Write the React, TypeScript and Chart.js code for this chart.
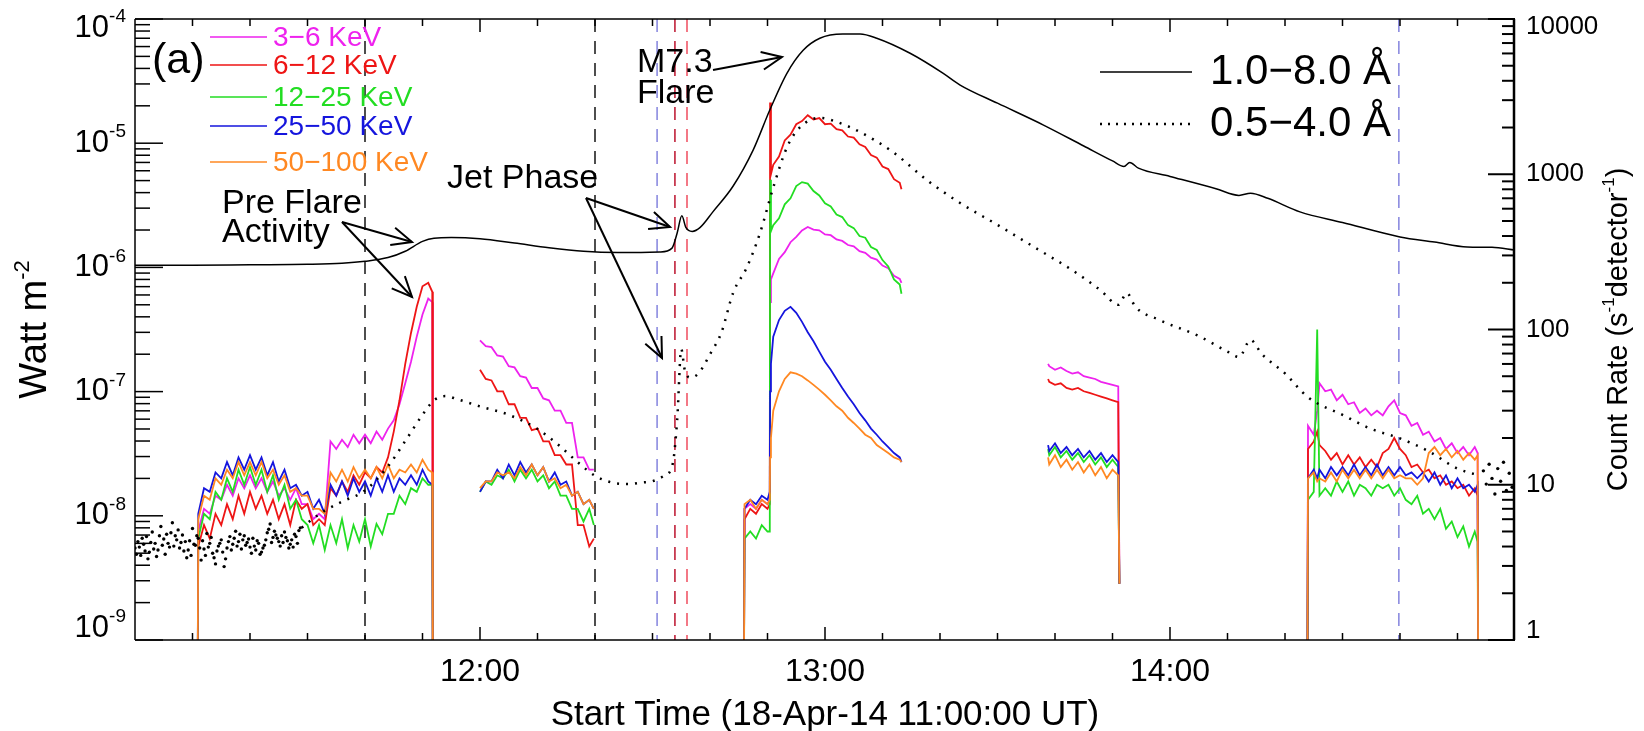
import React, { useEffect, useRef } from "react";
import { Chart, registerables } from "chart.js";
Chart.register(...registerables);

const W = 1644, H = 731;
const PAD = { left: 135, right: 129, top: 19, bottom: 91 };
const FONT = '"Liberation Sans", Arial, sans-serif';

// ---------- axis ticks ----------
const xLabelTimes = [60, 120, 180];
const xLabels = ["12:00", "13:00", "14:00"];
const leftDecades = [-9, -8, -7, -6, -5, -4];
const rightTicks = [1, 10, 100, 1000, 10000];
const rightTickLabels = ["1", "10", "100", "1000", "10000"];

// ---------- GOES 1.0-8.0 A (minutes after 11:00, W m^-2) ----------
const goesLongT = [0, 10, 20, 30, 36, 40, 44, 47, 50, 52, 55, 60, 66, 72, 78, 84, 88, 91.3, 93.4, 94.3, 95.1, 95.8, 96.9, 98.3, 100.5, 104, 107.5, 110.4, 113.4, 116.2, 119.1, 123.1, 126.1, 129, 134.8, 140.5, 143.5, 150, 158, 165, 170, 172, 173, 174.5, 180, 188, 192, 194, 197, 202.6, 210, 220, 226, 231.7, 236, 240];
const goesLongV = [1.04e-6, 1.04e-6, 1.05e-6, 1.06e-6, 1.08e-6, 1.12e-6, 1.2e-6, 1.35e-6, 1.62e-6, 1.72e-6, 1.74e-6, 1.7e-6, 1.57e-6, 1.44e-6, 1.35e-6, 1.32e-6, 1.32e-6, 1.33e-6, 1.43e-6, 1.9e-6, 2.6e-6, 2.1e-6, 1.95e-6, 2.1e-6, 2.8e-6, 4.5e-6, 8.8e-6, 1.85e-5, 3.67e-5, 5.6e-5, 7.0e-5, 7.57e-5, 7.57e-5, 7.0e-5, 5.3e-5, 3.67e-5, 2.94e-5, 2.1e-5, 1.4e-5, 9.5e-6, 7.2e-6, 6.5e-6, 7.0e-6, 6.3e-6, 5.4e-6, 4.3e-6, 3.8e-6, 3.95e-6, 3.6e-6, 2.8e-6, 2.3e-6, 1.76e-6, 1.6e-6, 1.46e-6, 1.45e-6, 1.38e-6];

// ---------- GOES 0.5-4.0 A ----------
const goesShortT = [29, 31, 33, 36, 40, 44, 47, 50, 52, 54, 56, 60, 65, 70, 74, 77, 80, 83, 86, 88, 90, 92, 93.5, 94.3, 95, 95.6, 96.5, 98, 100, 102, 104, 106.4, 108.7, 111, 113.4, 115.7, 119.1, 122.1, 126.1, 131.8, 137.7, 143.5, 150, 157, 163, 168, 171, 172.5, 174, 178, 185, 190, 192, 194, 196, 200, 204, 210, 215, 220, 225, 230, 234];
const goesShortV = [8e-9, 9.5e-9, 1.1e-8, 1.3e-8, 1.6e-8, 2.5e-8, 4e-8, 6.5e-8, 8.5e-8, 9.2e-8, 8.7e-8, 7.6e-8, 6.5e-8, 5e-8, 3.6e-8, 2.7e-8, 2.1e-8, 1.85e-8, 1.8e-8, 1.85e-8, 1.9e-8, 2.1e-8, 2.6e-8, 6e-8, 2.2e-7, 1.5e-7, 1.3e-7, 1.4e-7, 2e-7, 3e-7, 6.2e-7, 1e-6, 1.89e-6, 4.4e-6, 9.3e-6, 1.35e-5, 1.6e-5, 1.48e-5, 1.23e-5, 8.5e-6, 5.06e-6, 3.3e-6, 2.2e-6, 1.4e-6, 9.5e-7, 6.5e-7, 5e-7, 6.2e-7, 4.8e-7, 3.8e-7, 2.8e-7, 2.1e-7, 1.9e-7, 2.6e-7, 2e-7, 1.4e-7, 9e-8, 6.5e-8, 5e-8, 4.2e-8, 3.3e-8, 2.4e-8, 2.1e-8];
// noisy low-level samples (x1e-9), half-minute cadence from 11:00 and from 11:00:15
const noiseV1 = [5.5, 6.2, 4.8, 5.9, 6.8, 5.1, 7.4, 6.0, 5.3, 8.2, 6.5, 7.1, 5.6, 8.8, 6.9, 7.7, 6.1, 5.2, 4.6, 6.3, 7.9, 5.8, 6.6, 4.4, 5.4, 7.2, 6.0, 5.0, 4.1, 5.7, 6.4, 3.9, 5.5, 6.8, 5.9, 7.5, 6.2, 5.4, 6.9, 6.1, 5.6, 6.6, 5.3, 6.0, 5.1, 5.8, 7.3, 8.6, 6.7, 7.0, 6.2, 6.9, 7.4, 6.3, 5.9, 5.6, 6.8, 7.6];
const noiseV2 = [4.9, 5.6, 6.6, 5.2, 4.5, 6.1, 5.4, 4.7, 6.9, 5.8, 4.9, 6.0, 7.3, 5.7, 6.4, 5.5, 7.0, 6.2, 5.3, 4.8, 5.9, 6.9, 5.5, 6.3, 4.8, 5.6, 6.7, 4.6, 5.2, 6.0, 5.1, 4.5, 6.2, 5.3, 6.6, 5.7, 7.1, 6.4, 5.8, 6.5, 5.0, 5.7, 6.3, 4.9, 5.5, 6.4, 7.8, 6.1, 7.5, 6.6, 5.7, 6.1, 6.7, 5.5, 6.4, 7.1, 6.0, 8.0];
const endNoiseT = [234.5, 235, 235.5, 236, 236.5, 237, 237.5, 238, 238.5, 239, 239.5];
const endNoiseV = [2.3e-8, 1.8e-8, 2.6e-8, 2.0e-8, 1.5e-8, 2.4e-8, 1.9e-8, 2.7e-8, 1.6e-8, 2.2e-8, 1.7e-8];

// ---------- RHESSI count rates (s^-1 detector^-1) ----------
const mins = (a: number, b: number) => { const r: number[] = []; for (let i = a; i <= b; i++) r.push(i); return r; };
const tA = [10.9, ...mins(11, 51), 51.7, 51.8];
const tB = [...mins(60, 79), 79.8];
const tC = [105.9, ...mins(106, 110), 110.4, 110.45, 110.6, ...mins(111, 133), 133.3];
const tD = [158.8, ...mins(159, 171), 171.2];
const tE = [203.9, 204, 205, 205.6, ...mins(206, 233), 233.5, 233.6];

const magA = [0.5, 5, 7, 6.5, 8.5, 8, 10, 8.5, 11, 9.5, 11.5, 9.5, 11, 9, 10.5, 8.5, 9.5, 8, 9.5, 7.5, 7.5, 6, 6.5, 6, 19, 17, 19.5, 17.5, 21, 18.5, 21, 18.5, 22, 19.5, 23, 26, 33, 45, 62, 90, 125, 158, 150, 0.5];
const redA = [0.5, 4, 5.5, 4.5, 6.5, 5.5, 7.5, 6, 8.5, 6.5, 9, 7, 8.5, 6.5, 8, 6, 7.5, 5.5, 8, 7, 7.5, 5.5, 6, 5.5, 9.5, 8.5, 10.5, 9, 11.5, 10, 12, 11, 13, 12, 15, 22, 35, 60, 95, 140, 190, 200, 175, 0.5];
const grnA = [0.5, 4.5, 6.5, 6, 9, 8, 11, 9, 12.5, 10, 13, 10, 12.5, 9, 11.5, 8, 10, 7, 8, 6, 5.5, 4.2, 5.5, 3.8, 5.5, 4.2, 6, 3.9, 5.5, 4.3, 6, 4, 5.6, 4.8, 6.5, 6.5, 8.5, 7.5, 9.5, 9, 11, 10, 10, 0.5];
const bluA = [0.5, 6.5, 9.5, 9, 12, 11, 14, 11.5, 15, 12.5, 15.5, 12.5, 15, 11.5, 14, 10.5, 12.5, 9.5, 10, 8.5, 9, 7, 8, 6.5, 10, 8.5, 10.5, 8.5, 11, 9, 10.5, 8.5, 11, 9, 11.5, 9, 11, 10, 11.5, 10, 12.5, 10.5, 10, 0.5];
const oraA = [0.5, 6, 8.5, 8, 11, 10, 12.5, 11, 14, 11.5, 14, 11.5, 14, 11, 12.5, 10, 11.5, 9, 9.5, 8.5, 8.5, 7, 7, 6.5, 12, 10.5, 12.5, 10.5, 13, 11, 12.5, 11, 13, 11, 13.5, 11, 12.5, 12, 13.5, 12, 14.5, 12.5, 12, 0.5];

const magB = [85, 78, 77, 68, 67, 58, 57, 50, 49, 42, 42, 36, 35, 30, 30, 25, 25, 15, 15, 12.5, 12.5];
const redB = [55, 48, 47, 40, 40, 33, 33, 27, 27, 22.5, 23, 19, 19, 15.5, 15.5, 13.5, 13.5, 5.5, 5.5, 4, 4.5];
const grnB = [9, 10.5, 10, 11.5, 11, 12.5, 10.5, 12.5, 11, 12.5, 10.5, 11.5, 9.5, 10.5, 8.5, 8.5, 7, 7, 5.8, 7, 5.5];
const bluB = [9, 10.5, 10.5, 12.5, 11, 13.5, 11.5, 14, 12, 13.5, 11.5, 13, 10.5, 12, 10, 10.5, 8.5, 9, 7.5, 8, 7];
const oraB = [9.5, 10.5, 10.5, 12, 11.5, 12, 11, 13, 11.5, 13.5, 11.5, 13, 10.5, 11, 9.5, 10, 8.5, 9, 7.5, 8, 7];

const magC = [0.5, 7, 7.5, 7, 8, 7.5, 8, 150, 210, 230, 285, 315, 365, 395, 435, 457, 440, 435, 410, 405, 380, 372, 350, 343, 320, 312, 290, 282, 258, 248, 222, 212, 200];
const redC = [0.5, 6, 7, 6.5, 7.5, 7, 7.5, 2900, 1000, 1150, 1300, 1650, 1800, 2100, 2200, 2400, 2250, 2300, 2100, 2120, 1950, 1920, 1750, 1720, 1560, 1500, 1330, 1280, 1120, 1080, 930, 880, 800];
const grnC = [0.5, 4.5, 5, 4.5, 5.5, 5, 5, 920, 430, 470, 520, 640, 700, 840, 890, 870, 780, 730, 650, 620, 550, 530, 470, 450, 400, 390, 340, 325, 280, 255, 210, 195, 170];
const bluC = [0.5, 7, 8, 7.5, 8.5, 8, 9, 40, 60, 90, 115, 132, 140, 128, 112, 96, 84, 72, 62, 55, 48, 42, 37, 33, 29, 26, 23, 21, 19, 17.5, 16, 15, 14];
const oraC = [0.5, 7.5, 8, 7, 8, 7.5, 8, 15, 20, 30, 40, 48, 53, 52, 50, 47, 44, 41, 38, 35, 32, 30, 27, 25, 23, 21, 20, 18, 17, 16, 15, 14.5, 14];

const magD = [60, 58, 55, 57, 54, 52, 53, 50, 49, 48, 46, 45, 44, 43, 2.3];
const redD = [48, 46, 44, 45, 42, 41, 42, 40, 39, 38, 37, 36, 35, 34, 2.3];
const grnD = [17, 15.5, 17.5, 15, 16.5, 14.5, 16, 14, 15.5, 13.5, 15, 13, 14.5, 13, 2.3];
const bluD = [18, 16.5, 18.5, 16, 17.5, 15.5, 17, 15, 16.5, 14.5, 16, 14, 15.5, 14, 2.3];
const oraD = [15, 13.5, 15.5, 13, 14.5, 12.5, 14, 12, 13.5, 11.5, 13, 11, 12.5, 11.5, 2.3];

const magE = [0.5, 24, 21, 30, 45, 40, 41, 35, 38, 33, 34, 29, 31, 28, 30, 28, 32, 35, 29, 28, 24, 25, 21, 22, 19, 20, 17, 18.5, 16, 17.5, 15.5, 17.5, 16, 0.5];
const redE = [0.5, 17, 19, 22, 18, 16.5, 14.5, 16, 13.5, 15.5, 13.5, 15, 13, 14.5, 13, 16, 17, 20, 17, 15.5, 13, 13.5, 12, 12.5, 11, 11.5, 10, 10.5, 9.5, 10, 8.5, 9.5, 8.5, 0.5];
const grnE = [0.5, 8, 9, 100, 8.5, 9.5, 8.5, 10.5, 9, 10.5, 8.5, 10, 9.5, 8.5, 10, 9.5, 10, 8.5, 9.5, 8, 7.5, 8.5, 6.5, 7, 6, 7, 5.2, 5.8, 4.6, 5.4, 4, 5, 4.3, 0.5];
const bluE = [0.5, 11, 12.5, 11, 12.5, 11, 13, 11.5, 13, 11.5, 13.5, 11.5, 13, 11.5, 13.5, 11.5, 13, 11.5, 13, 11.5, 12, 11, 12, 10.5, 12, 10, 11.5, 9.5, 11, 9.5, 10, 9, 10, 0.5];
const oraE = [0.5, 11, 12, 10.5, 11, 10.5, 12, 10.5, 12.5, 11, 12.5, 11, 12.5, 11, 12.5, 11, 12.5, 11, 11.5, 11, 11, 10, 11, 16, 17.5, 15.5, 17, 15, 16.5, 14.5, 16, 14.5, 15.5, 0.5];

// ---------- vertical dashed markers ----------
const markerT = [40, 80, 90.8, 93.9, 96, 219.8];
const markerC = ["#222222", "#222222", "#8c8ce0", "#c0203a", "#f05868", "#8c8ce0"];

const bands = [
  { label: "3\u22126 KeV", color: "#ee22ee", segs: [magA, magB, magC, magD, magE] },
  { label: "6\u221212 KeV", color: "#ee1515", segs: [redA, redB, redC, redD, redE] },
  { label: "12\u221225 KeV", color: "#22dd22", segs: [grnA, grnB, grnC, grnD, grnE] },
  { label: "25\u221250 KeV", color: "#1515dd", segs: [bluA, bluB, bluC, bluD, bluE] },
  { label: "50\u2212100 KeV", color: "#ff8822", segs: [oraA, oraB, oraC, oraD, oraE] },
];
const segTimes = [tA, tB, tC, tD, tE];

function zip(t: number[], v: number[]) { return t.map((x, i) => ({ x, y: v[i] })); }
function bandPoints(segs: number[][]) {
  const pts: any[] = [];
  segs.forEach((vals, k) => {
    const t = segTimes[k];
    const n = Math.min(t.length, vals.length);
    for (let i = 0; i < n; i++) pts.push({ x: t[i], y: vals[i] });
    pts.push({ x: t[n - 1] + 0.01, y: null });
  });
  return pts;
}

function arrow(ctx: CanvasRenderingContext2D, x0: number, y0: number, x1: number, y1: number) {
  ctx.beginPath(); ctx.moveTo(x0, y0); ctx.lineTo(x1, y1); ctx.stroke();
  const a = Math.atan2(y1 - y0, x1 - x0), L = 22, s = 0.42;
  ctx.beginPath();
  ctx.moveTo(x1 - L * Math.cos(a - s), y1 - L * Math.sin(a - s));
  ctx.lineTo(x1, y1);
  ctx.lineTo(x1 - L * Math.cos(a + s), y1 - L * Math.sin(a + s));
  ctx.stroke();
}

function supText(ctx: CanvasRenderingContext2D, parts: [string, boolean][], x: number, y: number, big: number, small: number, rise: number) {
  let cx = x;
  for (const [s, sup] of parts) {
    ctx.font = `${sup ? small : big}px ${FONT}`;
    ctx.fillText(s, cx, sup ? y - rise : y);
    cx += ctx.measureText(s).width;
  }
  return cx - x;
}
function supWidth(ctx: CanvasRenderingContext2D, parts: [string, boolean][], big: number, small: number) {
  let w = 0;
  for (const [s, sup] of parts) { ctx.font = `${sup ? small : big}px ${FONT}`; w += ctx.measureText(s).width; }
  return w;
}

const overlay = {
  id: "overlay",
  beforeDatasetsDraw(chart: any) {
    const { ctx, chartArea: a, scales } = chart;
    ctx.save();
    ctx.lineWidth = 1.6;
    ctx.setLineDash([13, 9]);
    markerT.forEach((t, i) => {
      const px = scales.x.getPixelForValue(t);
      ctx.strokeStyle = markerC[i];
      ctx.beginPath(); ctx.moveTo(px, a.top); ctx.lineTo(px, a.bottom); ctx.stroke();
    });
    ctx.restore();
  },
  afterDraw(chart: any) {
    const { ctx, chartArea: a, scales } = chart;
    const xs = scales.x, yl = scales.y, yr = scales.y2;
    ctx.save();
    ctx.strokeStyle = "#000"; ctx.fillStyle = "#000"; ctx.setLineDash([]);
    // frame
    ctx.lineWidth = 1.5;
    ctx.beginPath();
    ctx.moveTo(a.left, a.top); ctx.lineTo(a.right, a.top);
    ctx.moveTo(a.left, a.bottom); ctx.lineTo(a.right, a.bottom);
    ctx.moveTo(a.left, a.top); ctx.lineTo(a.left, a.bottom);
    ctx.stroke();
    ctx.lineWidth = 2.5;
    ctx.beginPath(); ctx.moveTo(a.right - 1, a.top); ctx.lineTo(a.right - 1, a.bottom); ctx.stroke();
    // x ticks every 10 min
    ctx.lineWidth = 1.5;
    for (let t = 10; t < 240; t += 10) {
      const px = xs.getPixelForValue(t);
      const L = t % 60 === 0 ? 13 : 7;
      ctx.beginPath();
      ctx.moveTo(px, a.bottom); ctx.lineTo(px, a.bottom - L);
      ctx.moveTo(px, a.top); ctx.lineTo(px, a.top + L);
      ctx.stroke();
    }
    // left log ticks
    for (const d of leftDecades) {
      for (let m = 1; m <= 9; m++) {
        const v = m * Math.pow(10, d);
        if (v > 1.0001e-4) break;
        const py = yl.getPixelForValue(v);
        const L = m === 1 ? 28 : 15;
        ctx.beginPath(); ctx.moveTo(a.left, py); ctx.lineTo(a.left + L, py); ctx.stroke();
      }
    }
    // right log ticks
    ctx.lineWidth = 2;
    for (const base of rightTicks) {
      for (let m = 1; m <= 9; m++) {
        const v = m * base;
        if (v > 10001) break;
        const py = yr.getPixelForValue(v);
        const L = m === 1 ? 27 : 13;
        ctx.beginPath(); ctx.moveTo(a.right, py); ctx.lineTo(a.right - L, py); ctx.stroke();
      }
    }
    // left tick labels with superscripts
    ctx.textBaseline = "middle"; ctx.textAlign = "left";
    leftDecades.forEach((d) => {
      let py = yl.getPixelForValue(Math.pow(10, d));
      if (d === -4) py += 9;
      if (d === -9) py -= 12;
      const parts: [string, boolean][] = [["10", false], [String(d), true]];
      const w = supWidth(ctx, parts, 31, 19);
      supText(ctx, parts, 126 - w, py, 31, 19, 11);
    });
    // right tick labels
    ctx.font = `26px ${FONT}`;
    rightTicks.forEach((v, i) => {
      let py = yr.getPixelForValue(v);
      if (i === rightTicks.length - 1) py += 8;
      if (i === 0) py -= 9;
      ctx.fillText(rightTickLabels[i], 1526, py);
    });
    // x tick labels
    ctx.textAlign = "center"; ctx.font = `32px ${FONT}`;
    xLabelTimes.forEach((t, i) => ctx.fillText(xLabels[i], xs.getPixelForValue(t), 672));
    // x title
    ctx.font = `35px ${FONT}`;
    ctx.fillText("Start Time (18-Apr-14 11:00:00 UT)", (a.left + a.right) / 2, 715);
    // y titles
    ctx.textAlign = "left";
    ctx.save();
    ctx.translate(36, (a.top + a.bottom) / 2); ctx.rotate(-Math.PI / 2);
    const lp: [string, boolean][] = [["Watt m", false], ["-2", true]];
    const lw = supWidth(ctx, lp, 38, 22);
    supText(ctx, lp, -lw / 2, 0, 38, 22, 13);
    ctx.restore();
    ctx.save();
    ctx.translate(1619, (a.top + a.bottom) / 2); ctx.rotate(-Math.PI / 2);
    const rp: [string, boolean][] = [["Count Rate (s", false], ["-1", true], ["detector", false], ["-1", true], [")", false]];
    const rw = supWidth(ctx, rp, 29, 17);
    supText(ctx, rp, -rw / 2, 0, 29, 17, 10);
    ctx.restore();
    // panel tag
    ctx.textBaseline = "alphabetic";
    ctx.font = `43px ${FONT}`;
    ctx.fillText("(a)", 152, 73);
    // energy legend
    ctx.lineWidth = 1.5;
    const legY = [37, 65, 97, 126, 162];
    bands.forEach((b, i) => {
      ctx.strokeStyle = b.color; ctx.fillStyle = b.color;
      ctx.beginPath(); ctx.moveTo(210, legY[i]); ctx.lineTo(267, legY[i]); ctx.stroke();
      ctx.font = `28px ${FONT}`; ctx.textBaseline = "middle";
      ctx.fillText(b.label, 273, legY[i] + 1);
    });
    // GOES legend
    ctx.strokeStyle = "#000"; ctx.fillStyle = "#000";
    ctx.lineWidth = 1.5;
    ctx.beginPath(); ctx.moveTo(1100, 72); ctx.lineTo(1192, 72); ctx.stroke();
    ctx.lineWidth = 2.5; ctx.setLineDash([2, 6]);
    ctx.beginPath(); ctx.moveTo(1100, 124); ctx.lineTo(1192, 124); ctx.stroke();
    ctx.setLineDash([]);
    ctx.font = `42px ${FONT}`; ctx.textAlign = "right"; ctx.textBaseline = "middle";
    ctx.fillText("1.0\u22128.0 \u00c5", 1391, 72);
    ctx.fillText("0.5\u22124.0 \u00c5", 1391, 124);
    // annotations
    ctx.textAlign = "left"; ctx.textBaseline = "alphabetic"; ctx.font = `34px ${FONT}`;
    ctx.fillText("M7.3", 637, 72);
    ctx.fillText("Flare", 637, 103);
    ctx.fillText("Jet Phase", 447, 188);
    ctx.fillText("Pre Flare", 222, 213);
    ctx.fillText("Activity", 222, 242);
    ctx.lineWidth = 2;
    arrow(ctx, 713, 70, 782, 57);
    arrow(ctx, 586, 198, 670, 227);
    arrow(ctx, 586, 198, 662, 358);
    arrow(ctx, 342, 222, 412, 242);
    arrow(ctx, 342, 222, 412, 297);
    ctx.restore();
  },
};

export default function App() {
  const ref = useRef<HTMLCanvasElement>(null);
  useEffect(() => {
    if (!ref.current) return;
    const noisePts = [
      ...noiseV1.map((v, i) => ({ x: i * 0.5, y: v * 1e-9 })),
      ...noiseV2.map((v, i) => ({ x: 0.25 + i * 0.5, y: v * 1e-9 })),
      ...zip(endNoiseT, endNoiseV),
    ];
    const datasets: any[] = [
      { data: zip(goesLongT, goesLongV), yAxisID: "y", borderColor: "#000", borderWidth: 1.5, pointRadius: 0, cubicInterpolationMode: "monotone" },
      { data: zip(goesShortT, goesShortV), yAxisID: "y", borderColor: "#000", borderWidth: 2.5, borderDash: [2, 7], pointRadius: 0, cubicInterpolationMode: "monotone" },
      { data: noisePts, yAxisID: "y", showLine: false, pointRadius: 1.7, pointBackgroundColor: "#000", pointBorderWidth: 0 },
    ];
    [...bands].reverse().forEach((b) => {
      datasets.push({ data: bandPoints(b.segs), yAxisID: "y2", borderColor: b.color, borderWidth: 1.8, pointRadius: 0, spanGaps: false });
    });
    const chart = new Chart(ref.current, {
      type: "line",
      data: { datasets },
      options: {
        animation: false,
        responsive: false,
        devicePixelRatio: 1,
        layout: { padding: PAD },
        plugins: { legend: { display: false }, tooltip: { enabled: false } },
        scales: {
          x: { type: "linear", min: 0, max: 240, display: false },
          y: { type: "logarithmic", min: 1e-9, max: 1e-4, display: false },
          y2: { type: "logarithmic", min: 1, max: 1e4, display: false },
        },
      } as any,
      plugins: [overlay],
    });
    return () => chart.destroy();
  }, []);
  return (
    <div style={{ position: "absolute", left: 0, top: 0, width: W, height: H, background: "#fff" }}>
      <canvas ref={ref} width={W} height={H} style={{ width: W, height: H, display: "block" }} />
    </div>
  );
}
